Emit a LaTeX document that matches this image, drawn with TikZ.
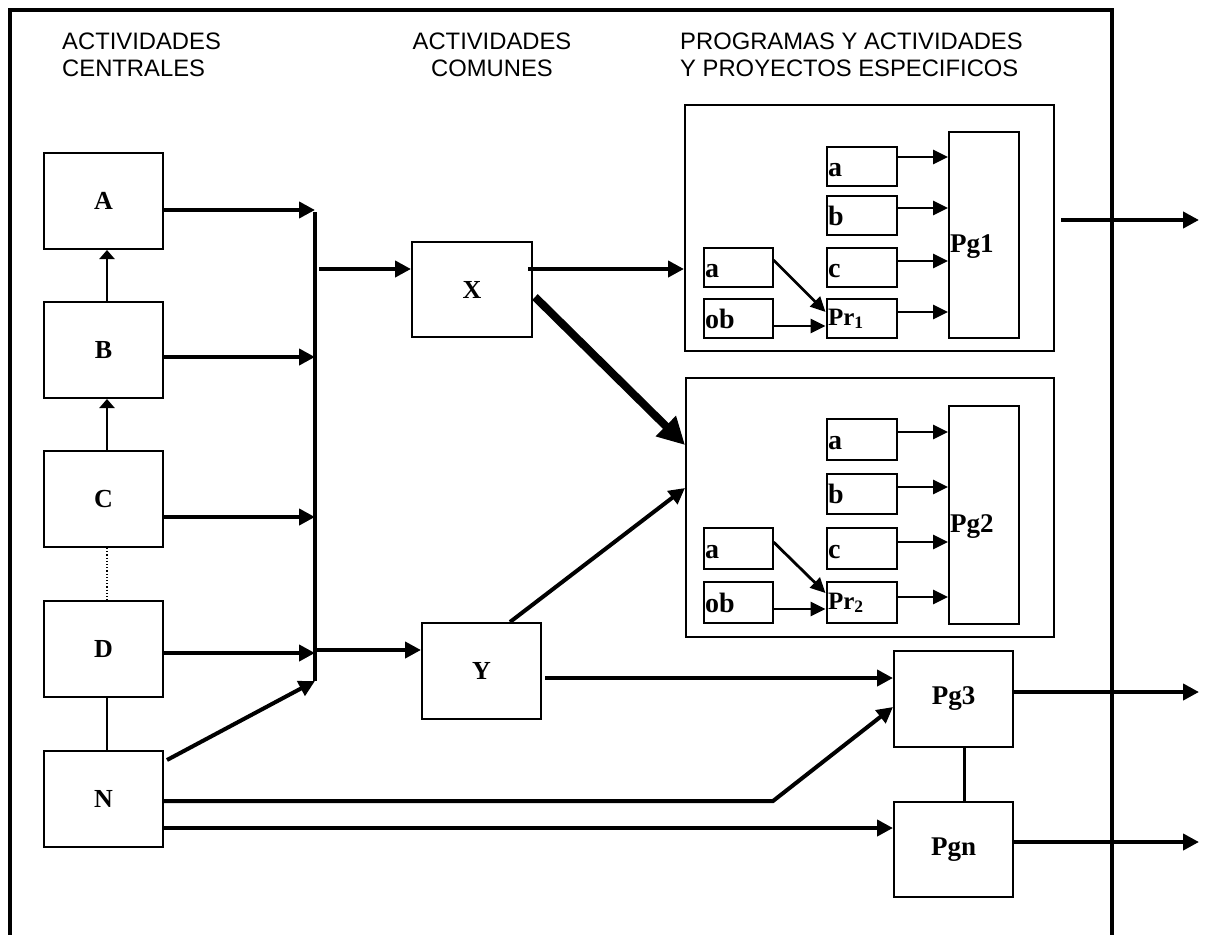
\documentclass[tikz,border=0pt]{standalone}
\usepackage{fontspec}
\setmainfont{Liberation Serif}
\newfontfamily\hdrfont{Liberation Sans}
\usetikzlibrary{arrows.meta}
\begin{document}
\begin{tikzpicture}[x=1pt,y=-1pt,
  bigbox/.style={draw, line width=2pt, minimum width=119pt, minimum height=96pt, inner sep=0pt, font=\bfseries\fontsize{26}{26}\selectfont},
  pgbig/.style={bigbox, font=\bfseries\fontsize{27}{27}\selectfont},
  grp/.style={draw, line width=2pt, inner sep=0pt},
  sbox/.style={draw, line width=2pt, minimum height=39pt, inner xsep=1.5pt, inner ysep=0pt, text width=67pt, align=left, text height=19pt, text depth=0pt, font=\bfseries\fontsize{28}{28}\selectfont},
  prbox/.style={sbox, text height=13pt, font=\bfseries\fontsize{25}{25}\selectfont},
  pgbox/.style={draw, line width=2pt, inner xsep=1pt, inner ysep=0pt, text width=68pt, align=left, text height=34pt, text depth=0pt, font=\bfseries\fontsize{27}{27}\selectfont},
  hdr/.style={anchor=base west, inner sep=0pt, font=\hdrfont\fontsize{23.8}{27}\selectfont},
  hdrc/.style={anchor=base, inner sep=0pt, font=\hdrfont\fontsize{23.8}{27}\selectfont},
  arr/.style={line width=4pt, -{Triangle[length=16pt,width=16pt]}},
  sarr/.style={line width=2.8pt, -{Triangle[length=15pt,width=14pt]}},
  varr/.style={line width=2.8pt, -{Triangle[length=9pt,width=15pt]}},
  tarr/.style={line width=8pt, -{Triangle[length=27pt,width=27pt]}},
  plain/.style={line width=2.2pt}
]
\useasboundingbox (0,0) rectangle (1206,934);
% frame
\draw[line width=3.5pt] (10,940) -- (10,10) -- (1112,10) -- (1112,940);

% headers
\node[hdr] (h1a) at (62,50) {ACTIVIDADES};
\node[hdr] (h1b) at (62,77) {CENTRALES};
\node[hdrc] (h2a) at (492,50) {ACTIVIDADES};
\node[hdrc] (h2b) at (492,77) {COMUNES};
\node[hdr] (h3a) at (680,50) {PROGRAMAS Y ACTIVIDADES};
\node[hdr] (h3b) at (680,77) {Y PROYECTOS ESPECIFICOS};

% central activities
\node[bigbox] (A) at (103.5,201) {A};
\node[bigbox] (B) at (103.5,350) {B};
\node[bigbox] (C) at (103.5,499) {C};
\node[bigbox] (D) at (103.5,649) {D};
\node[bigbox] (N) at (103.5,799) {N};

% common activities
\node[bigbox, minimum width=120pt, minimum height=95pt] (X) at (472,289.5) {X};
\node[bigbox] (Y) at (481.5,671) {Y};

% programs
\node[pgbig] (Pg3) at (953.5,699) {Pg3};
\node[pgbig, minimum height=95pt] (Pgn) at (953.5,849.5) {Pgn};

% group 1
\node[grp, minimum width=369pt, minimum height=246pt] (G1) at (869.5,228) {};
\node[pgbox, minimum height=206pt] (Pg1) at (984,235) {Pg1};
\node[sbox] (a1) at (861.5,166.5) {a};
\node[sbox] (b1) at (861.5,215.5) {b};
\node[sbox] (c1) at (861.5,267.5) {c};
\node[prbox] (P1) at (861.5,318.5) {Pr\textsubscript{1}};
\node[sbox, text width=66pt] (la1) at (738,267.5) {a};
\node[sbox, text width=66pt] (ob1) at (738,318.5) {ob};

% group 2
\node[grp, minimum width=368pt, minimum height=259pt] (G2) at (870,507.5) {};
\node[pgbox, minimum height=218pt] (Pg2) at (984,515) {Pg2};
\node[sbox, minimum height=41pt] (a2) at (861.5,439.5) {a};
\node[sbox, minimum height=40pt] (b2) at (861.5,494) {b};
\node[sbox, minimum height=41pt] (c2) at (861.5,548.5) {c};
\node[prbox, minimum height=41pt] (P2) at (861.5,602.5) {Pr\textsubscript{2}};
\node[sbox, text width=66pt, minimum height=41pt] (la2) at (738,548.5) {a};
\node[sbox, text width=66pt, minimum height=41pt] (ob2) at (738,602.5) {ob};

% bus
\coordinate (busT) at (315,212);
\coordinate (busB) at (315,681);
\draw[line width=3.5pt] (busT) -- (busB);
\coordinate (busA) at (315,210);
\coordinate (busBB) at (315,357);
\coordinate (busC) at (315,517);
\coordinate (busD) at (315,653);
\draw[arr] (A.east |- busA) -- (busA);
\draw[arr] (B.east |- busBB) -- (busBB);
\draw[arr] (C.east |- busC) -- (busC);
\draw[arr] (D.east |- busD) -- (busD);
\coordinate (nS) at (167,760);
\draw[arr] (nS) -- (busB);

% vertical links
\draw[varr] ([xshift=3.5pt]B.north) -- ([xshift=3.5pt]A.south);
\draw[varr] ([xshift=3.5pt]C.north) -- ([xshift=3.5pt]B.south);
\draw[line width=1.2pt, dotted] ([xshift=3.5pt]C.south) -- ([xshift=3.5pt]D.north);
\draw[plain] ([xshift=3.5pt]D.south) -- ([xshift=3.5pt]N.north);

% bus to X and Y
\coordinate (bX) at (319,269);
\coordinate (bY) at (316,650);
\draw[arr] (bX) -- (X.west |- bX);
\draw[arr] (bY) -- (Y.west |- bY);

% X outputs
\coordinate (xo) at (528,269);
\draw[arr] (xo) -- (G1.west |- xo);
\coordinate (xt) at (535,297);
\coordinate (xtE) at (685,445);
\draw[tarr] (xt) -- (xtE);

% Y outputs
\coordinate (yt) at (510,622);
\draw[arr] (yt) -- ([yshift=19.5pt]G2.west);
\coordinate (yo) at (545,678);
\draw[arr] (yo) -- (Pg3.west |- yo);

% N outputs
\coordinate (nb) at (773,801);
\draw[arr] ([yshift=-2pt]N.east) -- (nb) -- ([yshift=-8pt]Pg3.west);
\coordinate (nn) at (163,828);
\draw[arr] (nn) -- (Pgn.west |- nn);
\draw[line width=3pt] ([xshift=10.5pt]Pg3.south) -- ([xshift=10.5pt]Pgn.north);

% program outputs
\coordinate (o1) at (1199,220);
\coordinate (o3) at (1199,692);
\coordinate (on) at (1199,842);
\draw[arr] ([xshift=6pt]G1.east |- o1) -- (o1);
\draw[arr] (Pg3.east |- o3) -- (o3);
\draw[arr] (Pgn.east |- on) -- (on);

% inner group 1
\draw[sarr] ([yshift=9.5pt]a1.east) -- ([yshift=9.5pt]a1.east -| Pg1.west);
\draw[sarr] ([yshift=7.5pt]b1.east) -- ([yshift=7.5pt]b1.east -| Pg1.west);
\draw[sarr] ([yshift=6.5pt]c1.east) -- ([yshift=6.5pt]c1.east -| Pg1.west);
\draw[sarr] ([yshift=6.5pt]P1.east) -- ([yshift=6.5pt]P1.east -| Pg1.west);
\draw[sarr] ([yshift=7.5pt]la1.east) -- ([yshift=6.5pt]P1.west);
\draw[sarr] ([yshift=-7.5pt]ob1.east) -- ([yshift=-7.5pt]P1.west);

% inner group 2
\draw[sarr] ([yshift=7.5pt]a2.east) -- ([yshift=7.5pt]a2.east -| Pg2.west);
\draw[sarr] ([yshift=7pt]b2.east) -- ([yshift=7pt]b2.east -| Pg2.west);
\draw[sarr] ([yshift=6.5pt]c2.east) -- ([yshift=6.5pt]c2.east -| Pg2.west);
\draw[sarr] ([yshift=5.5pt]P2.east) -- ([yshift=5.5pt]P2.east -| Pg2.west);
\draw[sarr] ([yshift=6.5pt]la2.east) -- ([yshift=9.5pt]P2.west);
\draw[sarr] ([yshift=-6.5pt]ob2.east) -- ([yshift=-6.5pt]P2.west);
\end{tikzpicture}
\end{document}
